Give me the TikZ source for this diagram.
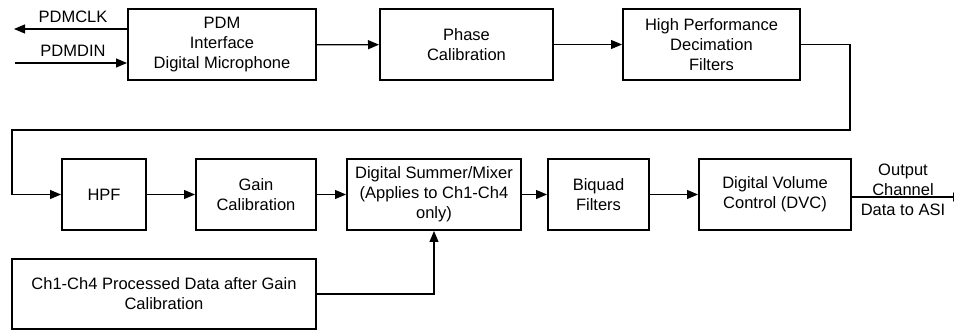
\documentclass[tikz,border=0pt]{standalone}
\usepackage{fontspec}
\setmainfont{Liberation Sans}
\usetikzlibrary{arrows.meta}

\begin{document}
\begin{tikzpicture}[x=1pt, y=-1pt, >={Triangle[length=11pt,width=9pt]},
  block/.style={draw, line width=2pt, align=center, minimum height=71pt,
    font=\fontsize{16.5}{20}\selectfont},
  wire/.style={line width=1.2pt},
  lbl/.style={font=\fontsize{16.5}{20}\selectfont, align=center, inner sep=0pt}]
  \useasboundingbox (0,0) rectangle (954,331);

  % top row
  \node[block, minimum width=188pt] (pdm) at (222,45) {PDM\\Interface\\Digital Microphone};
  \node[block, minimum width=173pt] (phase) at (466.5,44.5) {Phase\\Calibration};
  \node[block, minimum width=177pt] (deci) at (711.5,44.5) {High Performance\\Decimation\\Filters};

  % bottom row
  \node[block, minimum width=84pt] (hpf) at (104,194.5) {HPF};
  \node[block, minimum width=120pt] (gain) at (256,194.5) {Gain\\Calibration};
  \node[block, minimum width=174pt] (mixer) at (434,194.5) {Digital Summer/Mixer\\(Applies to Ch1-Ch4\\only)};
  \node[block, minimum width=101pt] (biquad) at (598.5,194.5) {Biquad\\Filters};
  \node[block, minimum width=152pt] (dvc) at (775,194.5) {Digital Volume\\Control (DVC)};
  \node[block, minimum width=304pt, minimum height=70pt] (chdata) at (164,294) {Ch1-Ch4 Processed Data after Gain\\Calibration};

  % pdm pins
  \coordinate (clk) at (14,29);
  \coordinate (din) at (15,63);
  \draw[wire, ->] (pdm.west |- clk) -- (clk);
  \draw[wire, ->] (din) -- (pdm.west |- din);
  \node[lbl] (clklbl) at (73,17) {PDMCLK};
  \node[lbl] (dinlbl) at (73,51) {PDMDIN};

  % signal chain
  \draw[wire, ->] (pdm) -- (phase);
  \draw[wire, ->] (phase) -- (deci);
  \coordinate (loopR) at (850,130);
  \coordinate (loopL) at (12,130);
  \draw[wire, ->] (deci.east) -| (loopR) -- (loopL) |- (hpf.west);
  \draw[wire, ->] (hpf) -- (gain);
  \draw[wire, ->] (gain) -- (mixer);
  \draw[wire, ->] (mixer) -- (biquad);
  \draw[wire, ->] (biquad) -- (dvc);
  \draw[wire, ->] (chdata.east) -| (mixer.south);

  % output
  \node[lbl] (outlbl) at (903,190) {Output\\Channel\\Data to ASI};
  \coordinate (asi) at (964,197);
  \draw[wire, ->] (dvc.east |- asi) -- (asi);
\end{tikzpicture}
\end{document}
